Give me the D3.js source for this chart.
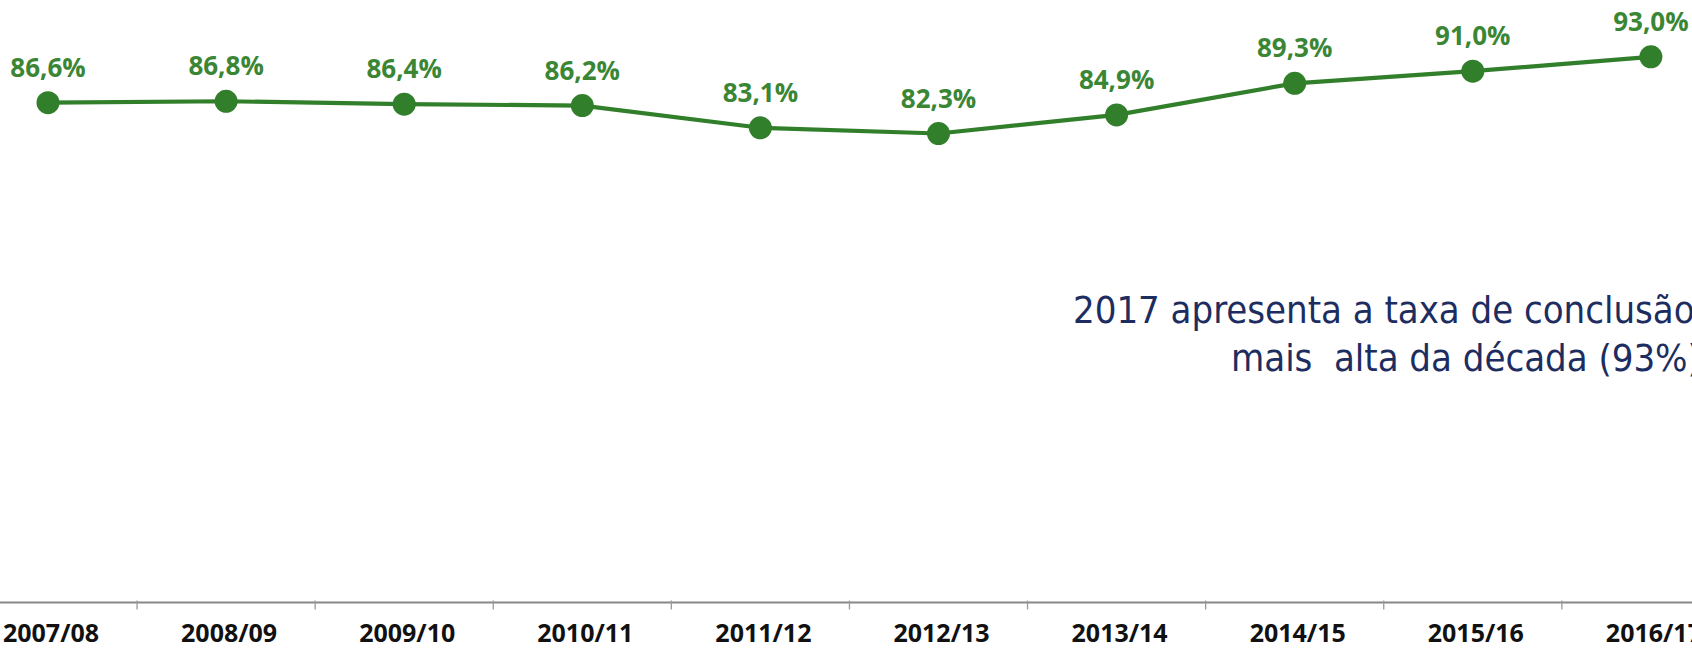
<!DOCTYPE html>
<html lang="pt">
  <head>
    <meta charset="utf-8">
    <title>Taxa de conclusão</title>
    <style>
      html, body { margin: 0; padding: 0; background: #fff; overflow: hidden; }
      svg { display: block; }
    </style>
  </head>
  <body>
    <svg class="chart"></svg>
    <script src="https://d3js.org/d3.v7.min.js"></script>
    <script>
      // anos lectivos e taxa de conclusão (%)
      const categories = ["2007/08", "2008/09", "2009/10", "2010/11", "2011/12",
                          "2012/13", "2013/14", "2014/15", "2015/16", "2016/17"];
      const values = [86.6, 86.8, 86.4, 86.2, 83.1, 82.3, 84.9, 89.3, 91.0, 93.0];
      const noteLines = ["2017 apresenta a taxa de conclusão", "mais  alta da década (93%)"];

      const width = 1692, height = 649;
      const green = "#317f2b";

      const svg = d3.select(".chart").attr("width", width).attr("height", height);

      // the picture is cropped: first band starts off-screen on the left
      const step = 178.1;
      const x = d3.scaleBand()
                  .domain(categories)
                  .range([48 - step / 2, 48 - step / 2 + step * categories.length])
                  .paddingInner(0).paddingOuter(0);
      const y = d3.scaleLinear().domain([80, 95]).range([150, 42.5]);

      const cx = d => x(d) + x.bandwidth() / 2;

      // category axis at the bottom
      const axisY = 602.5;
      svg.append("line")
         .attr("x1", 0).attr("x2", width)
         .attr("y1", axisY).attr("y2", axisY)
         .attr("stroke", "#878787").attr("stroke-width", 2.2);

      svg.append("g").selectAll("line")
         .data(categories.slice(1)).enter().append("line")
         .attr("x1", d => x(d)).attr("x2", d => x(d))
         .attr("y1", axisY - 2).attr("y2", axisY + 7)
         .attr("stroke", "#9a9a9a").attr("stroke-width", 1.3);

      svg.append("g").selectAll("text")
         .data(categories).enter().append("text")
         .attr("x", d => cx(d) + 3)
         .attr("y", 642)
         .attr("text-anchor", "middle")
         .style("font-family", "'Open Sans', sans-serif")
         .style("font-weight", 700)
         .style("font-size", "25px")
         .style("fill", "#111")
         .text(d => d);

      // line + dots
      const line = d3.line()
                     .x((d, i) => cx(categories[i]))
                     .y(d => y(d));

      svg.append("path")
         .datum(values)
         .attr("d", line)
         .attr("fill", "none")
         .attr("stroke", green)
         .attr("stroke-width", 4.2)
         .attr("stroke-linejoin", "round");

      svg.append("g").selectAll("circle")
         .data(values).enter().append("circle")
         .attr("cx", (d, i) => cx(categories[i]))
         .attr("cy", d => y(d))
         .attr("r", 11.5)
         .attr("fill", green);

      svg.append("g").selectAll("text")
         .data(values).enter().append("text")
         .attr("x", (d, i) => cx(categories[i]))
         .attr("y", d => y(d) - 26)
         .attr("text-anchor", "middle")
         .style("font-family", "'Open Sans', sans-serif")
         .style("font-weight", 700)
         .style("font-size", "26px")
         .style("fill", "#3a8634")
         .text(d => d.toFixed(1).replace(".", ",") + "%");

      // note
      const note = svg.append("text")
         .style("font-family", "'DejaVu Sans Condensed', 'DejaVu Sans', sans-serif")
         .style("font-stretch", "condensed")
         .style("font-size", "38px")
         .style("letter-spacing", "-0.05px")
         .style("fill", "#1d2d5f")
         .style("white-space", "pre");
      note.append("tspan").attr("x", 1073).attr("y", 323).text(noteLines[0]);
      note.append("tspan").attr("x", 1231).attr("y", 371).text(noteLines[1]);
    </script>
  </body>
</html>
